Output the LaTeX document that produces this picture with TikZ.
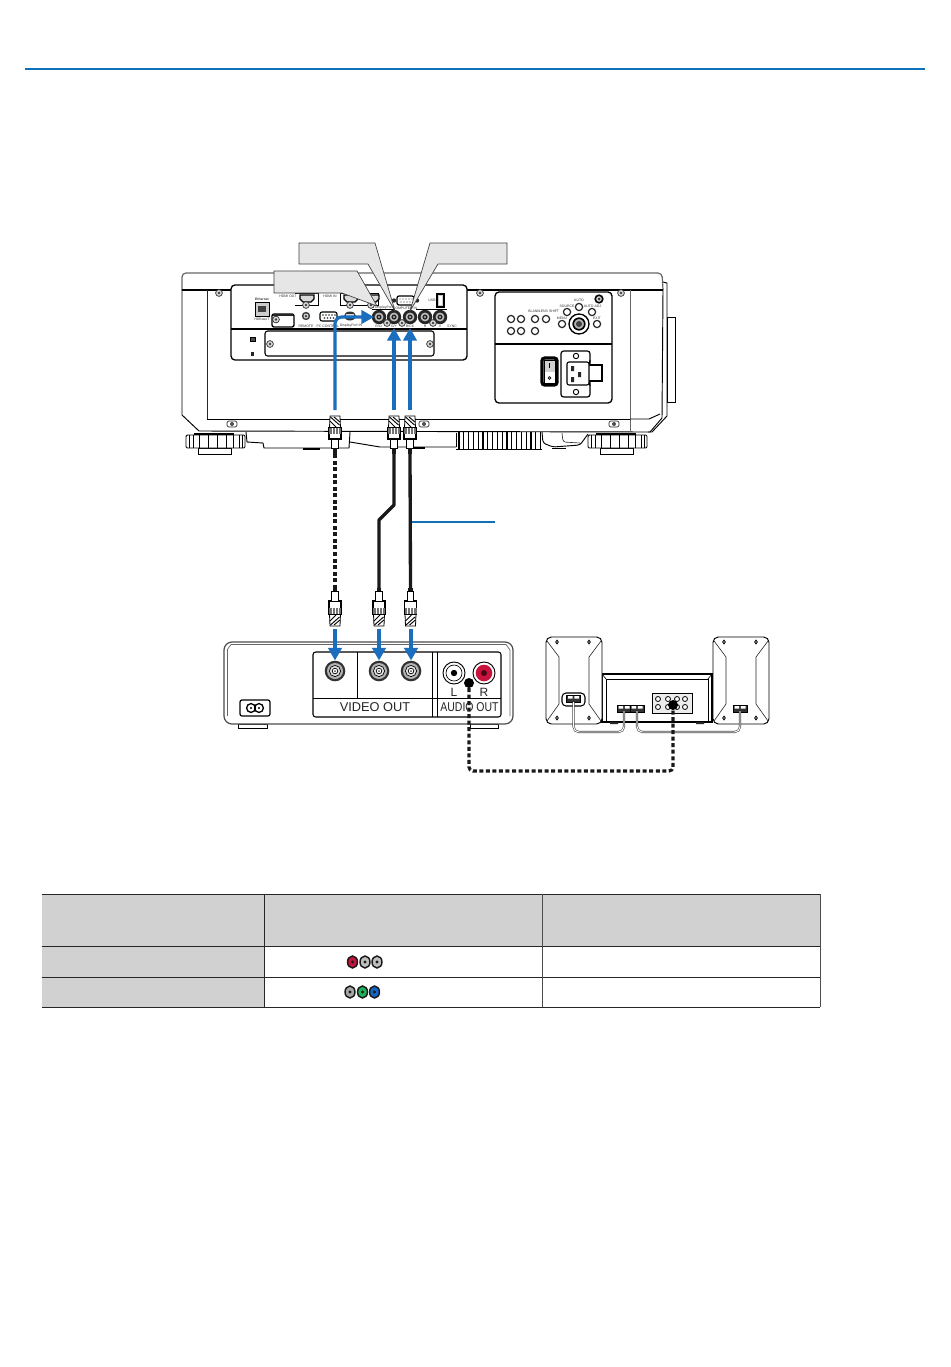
\documentclass[tikz,border=0pt]{standalone}
\usepackage{fontspec}
\setmainfont{Liberation Sans}
\usetikzlibrary{arrows.meta}
\definecolor{topblue}{HTML}{0F72B8}
\definecolor{arrblue}{HTML}{1B6EBE}
\definecolor{calloutgray}{HTML}{E6E6E6}
\definecolor{hdrgray}{HTML}{D1D1D1}
\definecolor{rcared}{HTML}{C8143C}
\definecolor{rcagreen}{HTML}{1FB25A}
\definecolor{rcablue}{HTML}{1565C8}
\tikzset{
  ln/.style={draw=black,line width=0.7pt},
  thin ln/.style={draw=black!85,line width=0.45pt},
  callout/.style={fill=calloutgray,draw=black!75,line width=0.5pt},
  blue arrow/.style={draw=arrblue,line width=2.4pt,-{Triangle[length=9.5pt,width=10pt]}},
  dotted cable/.style={draw=black!90,line width=2.4pt,dash pattern=on 3pt off 1.9pt},
  solid cable/.style={draw=black!90,line width=2.5pt,line join=round},
  tiny/.style={font=\fontsize{2.6pt}{3pt}\selectfont,inner sep=0pt,text=black!80},
  bigl/.style={font=\fontsize{9.6pt}{12pt}\selectfont,inner sep=0pt,text=black!85},
  gridcell/.style={draw=black!85,line width=0.75pt},
  pt/.style={inner sep=0pt,minimum size=0pt,outer sep=0pt}
}
% BNC jack on the projector
\newcommand{\bncjack}[3]{%
  \fill[black!85] (#2,#3) circle (7.2);
  \fill[black!25] (#2,#3) circle (4.4);
  \fill[black!85] (#2,#3) circle (2.6);
  \fill[white] (#2,#3) circle (0.9);
}
% small round button
\newcommand{\btn}[3]{\draw[line width=0.9pt,draw=black!85,fill=white] (#2,#3) circle (#1);}
% small screw
\newcommand{\screw}[2]{%
  \draw[line width=0.5pt,draw=black!85,fill=black!15] (#1,#2) circle (3.4);
  \fill[black!75] (#1,#2) circle (1.4);
}
% wide screw
\newcommand{\wscrew}[2]{%
  \draw[line width=0.5pt,draw=black!85,fill=white,rounded corners=1.5] (#1-5,#2-3) rectangle (#1+5,#2+3);
  \fill[black!70] (#1,#2) circle (2);
}
% BNC plug pointing up: x, top y
\newcommand{\plugup}[2]{%
  \draw[line width=.6pt,fill=white] (#1-5,#2) -- (#1+5,#2) -- (#1+5.5,#2+12) -- (#1-5.5,#2+12) -- cycle;
  \draw[line width=.7pt] (#1-4.5,#2+1) -- (#1+4.5,#2+9) (#1-5,#2+5) -- (#1+1,#2+11) (#1-1,#2+1) -- (#1+5,#2+6);
  \draw[line width=.9pt,fill=white] (#1-6,#2+12) rectangle (#1+6,#2+23);
  \fill[black!55] (#1-6,#2+12) rectangle (#1+6,#2+18);
  \draw[line width=.4pt,draw=white] (#1-3,#2+12) -- (#1-3,#2+18) (#1,#2+12) -- (#1,#2+18) (#1+3,#2+12) -- (#1+3,#2+18);
  \draw[line width=.7pt,fill=white] (#1-3.2,#2+23) rectangle (#1+3.2,#2+32);
  \fill[black!90] (#1-2.2,#2+32) rectangle (#1+2.2,#2+38);
}
% BNC plug pointing down: x, bottom y
\newcommand{\plugdown}[2]{%
  \draw[line width=.6pt,fill=white] (#1-5,#2) -- (#1+5,#2) -- (#1+5.5,#2-12) -- (#1-5.5,#2-12) -- cycle;
  \draw[line width=.7pt] (#1-4.5,#2-1) -- (#1+4.5,#2-9) (#1-5,#2-5) -- (#1+1,#2-11) (#1-1,#2-1) -- (#1+5,#2-6);
  \draw[line width=.9pt,fill=white] (#1-6,#2-25) rectangle (#1+6,#2-12);
  \fill[black!55] (#1-6,#2-18) rectangle (#1+6,#2-12);
  \draw[line width=.4pt,draw=white] (#1-3,#2-18) -- (#1-3,#2-12) (#1,#2-18) -- (#1,#2-12) (#1+3,#2-18) -- (#1+3,#2-12);
  \draw[line width=.7pt,fill=white] (#1-3.2,#2-35) rectangle (#1+3.2,#2-25);
  \fill[black!90] (#1-2.2,#2-38) rectangle (#1+2.2,#2-35);
}
% BNC jack on the source
\newcommand{\srcjack}[2]{%
  \fill[black!80] (#1,#2) circle (10.3);
  \fill[black!30] (#1,#2) circle (8);
  \draw[line width=.5pt,fill=black!12] (#1,#2) circle (5.6);
  \draw[line width=.5pt,fill=white] (#1,#2) circle (2.8);
  \fill[black!70] (#1,#2) circle (1);
}
% RCA icon in table
\newcommand{\rca}[3]{%
  \draw[line width=1.1pt,draw=black!90,fill=#3] (#1,#2) ellipse (5 and 6);
  \fill[black!90] (#1,#2) circle (1.7);
}
% speaker
\newcommand{\speaker}[1]{%
  \begin{scope}[shift={(#1,0)}]
  \draw[ln,fill=white,rounded corners=4] (0,637) rectangle (56,724);
  \draw[thin ln] (1,641) -- (13,657) -- (13,704) -- (1,721);
  \draw[thin ln] (55,641) -- (43,657) -- (43,704) -- (55,721);
  \foreach \sx in {11,43} \foreach \sy in {642,718} \draw[line width=.6pt] (\sx,\sy) ellipse (1.3 and 1.9);
  \end{scope}
}
% dual terminal
\newcommand{\terminal}[2]{%
  \draw[line width=.7pt,fill=black!80] (#1,#2) rectangle (#1+14,#2+7);
  \fill[white] (#1+1.5,#2+1) rectangle (#1+6.2,#2+3.5) (#1+7.8,#2+1) rectangle (#1+12.5,#2+3.5);
}
\begin{document}
\begin{tikzpicture}[x=0.75pt,y=-0.75pt,line cap=butt]
\useasboundingbox (0,0) rectangle (950,1367);
\fill[white] (0,0) rectangle (950,1367);

% header rule
\coordinate (ruleL) at (25,69); \coordinate (ruleR) at (925,69);
\draw[topblue,line width=1.5pt] (ruleL) -- (ruleR);

% ---------- projector body ----------
\draw[line width=.9pt,draw=black!60,rounded corners=3,fill=white] (182,290) -- (182,273) -- (662,273) -- (663,290);
\draw[ln,fill=white] (182,290) -- (182,415) -- (199,431) -- (650,432) -- (662,418) -- (663,290) -- cycle;
\draw[line width=.9pt] (182,290) -- (663,290);
\draw[line width=.7pt,draw=black!85] (207,290) -- (207,419);
\draw[line width=.7pt,draw=black!60] (630,290) -- (630,432);
\draw[ln] (207,419) -- (630,419);
\draw[ln] (630,419) -- (649,419) -- (660,414);
% right side skin
\draw[ln] (663,282) -- (667,283) -- (667,416) -- (652,432) -- (648,432);
\draw[ln,fill=white] (667,317) rectangle (675,402);
% bottom outline
\draw[ln] (246,432) -- (247,442) -- (263,443) -- (264,448) -- (349,448) -- (350,432);
\draw[ln] (350,442) -- (380,447) -- (456,447);
\draw[ln] (456,433) -- (456,447);
\foreach \vx in {459,463.8,...,542} \draw[line width=1pt] (\vx,432) -- (\vx,449);
\draw[line width=.7pt] (456,449) -- (542,449);
\draw[ln,rounded corners=2] (542,432) -- (543,443) -- (553,447) -- (580,445) -- (588,434);
\draw[thin ln,rounded corners=2] (562,433) -- (563,442) -- (580,443);
\fill[black] (552,447.5) rectangle (566,449);
\fill[black] (303,448) rectangle (320,450);
\fill[black] (407,447) rectangle (425,449);

% feet
\foreach \fx in {186,588} {
  \draw[ln,fill=white] (\fx+12,448) rectangle (\fx+45,454);
  \draw[ln,fill=white,rounded corners=1] (\fx,435) rectangle (\fx+59,448);
  \fill[black] (\fx+8,432.5) rectangle (\fx+48,435);
  \foreach \rx in {3,7,13,22,31,40,47,53,56} \draw[line width=.5pt] (\fx+\rx,435) -- (\fx+\rx,448);
}

% screws on body
\wscrew{232}{424}
\screw{480}{293}\screw{621}{293}\screw{219}{293}
\wscrew{424}{424}\wscrew{614}{424}

% ---------- left terminal panel ----------
\draw[line width=1pt,rounded corners=3,fill=white] (231,285) rectangle (467,360);
\draw[line width=.9pt] (231,329) -- (467,329);
\draw[line width=.8pt,rounded corners=2,fill=white] (265,331) rectangle (434,356);
\screw{270}{344}\screw{430}{344}
\fill[black!70] (250,338) rectangle (255,340.5);
\draw[line width=.4pt] (250,337.5) rectangle (255,341);
\fill[black!85] (250.5,352) rectangle (254,356);
% Ethernet
\draw[line width=.7pt,fill=black!20] (255,302) rectangle (269,316);
\fill[black!75] (258,306) rectangle (266,312);
\node[tiny,font=\fontsize{2.5pt}{3pt}\bfseries\selectfont] (lbEth) at (262,299) {Ethernet};
\node[tiny] (lbHdbt) at (262,319) {HDBaseT};
% slot
\draw[line width=1pt,rounded corners=1.5,fill=white] (272,314) rectangle (294,327);
\fill[black!85] (273,314) rectangle (293,316);
\screw{276}{319.5}
% hdmi out
\draw[line width=.5pt] (295,293) -- (318,293) -- (318,305) -- (295,305);
\draw[line width=1pt,fill=black!15] (300,295) -- (314,295) -- (314,299) -- (311,302) -- (303,302) -- (300,299) -- cycle;
\node[tiny] (lbOut) at (288,296.5) {HDMI OUT};
\screw{306}{305}
% remote
\fill[black!75] (306,316) circle (4.2); \fill[black!20] (306,316) circle (2.5); \fill[black] (306,316) circle (1);
\node[tiny] (lbRem) at (306,326) {REMOTE};
% PC control
\draw[line width=.8pt,fill=white,rounded corners=1.5] (320,312) rectangle (337,321);
\foreach \cx in {323,326,329,332,335} \fill[black!80] (\cx,315) circle (.8);
\foreach \cx in {324.5,327.5,330.5,333.5} \fill[black!80] (\cx,318) circle (.8);
\node[tiny] (lbPc) at (328,326) {PC CONTROL};
% hdmi in
\draw[line width=.5pt] (340,293) -- (340,305) -- (378,305) -- (378,293) -- cycle;
\draw[line width=1pt,fill=black!15] (344,295) -- (358,295) -- (358,299) -- (355,302) -- (347,302) -- (344,299) -- cycle;
\node[tiny] (lbIn) at (330,296.5) {HDMI IN};
\screw{350}{305}
\draw[line width=1pt,fill=black!15] (365,295) -- (379,295) -- (379,299) -- (376,302) -- (368,302) -- (365,299) -- cycle;
\screw{371}{305}
% DisplayPort
\fill[black!80] (350,316) ellipse (6 and 4.5); \fill[black!15] (346,314) rectangle (354,318);
\node[tiny] (lbDp) at (351,326) {DisplayPort IN};
% computer in
\draw[line width=.9pt,fill=white,rounded corners=1.5] (397,296) rectangle (414,305);
\foreach \cx in {400,403,406,409,412} \fill[black!80] (\cx,299) circle (.7);
\foreach \cx in {401,404,407,410} \fill[black!80] (\cx,302) circle (.7);
\fill[black!85] (394,300.5) circle (2.2); \fill[black!85] (417,300.5) circle (2.2);
\node[tiny] (lbComp) at (405,308.2) {COMPUTER IN};
\draw[line width=.5pt] (372,309.5) -- (395,309.5) (416,309.5) -- (447,309.5);
\node[tiny] (lbDisp) at (384,307.2) {DisplayPort};
% usb
\node[tiny] (lbUsb) at (432,300) {USB};
\draw[line width=.9pt,fill=black!20] (437,294) rectangle (444,307);
\fill[white] (439,296) rectangle (442,305);
% bnc jacks
\bncjack{}{379}{317}\bncjack{}{394}{317}\bncjack{}{410}{317}\bncjack{}{425}{317}\bncjack{}{440}{317}
\screw{387}{323}\screw{402}{323}\screw{433}{323}
\node[tiny] (lbR) at (379,326.5) {R/Cr};
\node[tiny] (lbG) at (394,326.5) {G/Y};
\node[tiny] (lbB) at (410,326.5) {B/Cb};
\node[tiny] (lbH) at (425,326.5) {H};
\node[tiny] (lbV) at (440,326.5) {V};
\node[tiny] (lbHdr) at (452,326.5) {SYNC};

% ---------- right control panel ----------
\draw[line width=1pt,rounded corners=3,fill=white] (495,292) rectangle (612,403);
\draw[line width=.9pt] (495,344) -- (612,344);
\foreach \bx/\by in {511/319,521/319,511/331,521/331,535/319,535/331,546/319,562/324,567/312,579/307,592/312,597/324} \btn{3.6}{\bx}{\by};
\draw[line width=1.2pt,fill=black!15] (599,299) circle (3.8);
\fill[black!80] (599,299) circle (1.5);
\draw[line width=1pt,fill=white] (579,324) circle (10);
\draw[line width=1.2pt,fill=black!30] (579,324) circle (5.8);
\fill[black!75] (579,324) circle (3);
\node[tiny] (lbB1) at (534,311) {BLANK};
\node[tiny] (lbB2) at (549,311) {LENS SHIFT};
\node[tiny] (lbB3) at (567,306) {SOURCE};
\node[tiny] (lbB4) at (579,300) {AUTO};
\node[tiny] (lbB5) at (593,306) {AUTO ADJ.};
\node[tiny] (lbB6) at (562,318.5) {MENU};
\node[tiny] (lbB7) at (597,318.5) {EXIT};
% power switch
\draw[line width=2.4pt,rounded corners=2,fill=white] (542,358) rectangle (557,385);
\fill[black!18] (544,360) rectangle (555,372);
\draw[line width=.4pt] (544,360) rectangle (555,383);
\draw[line width=.6pt] (549.5,363) -- (549.5,368);
\draw[line width=.6pt] (549.5,378) circle (1.4);
% AC inlet
\draw[line width=.9pt,rounded corners=2,fill=white] (561,351) rectangle (590,397);
\draw[line width=.8pt,fill=white] (589,365) -- (602,365) -- (602,381) -- (589,381);
\draw[line width=.8pt] (590,360) -- (589,365) (590,386) -- (589,381);
\draw[line width=.8pt,rounded corners=1.5,fill=white] (567,362) rectangle (589,385);
\fill[black!85] (571,366) rectangle (574,371) (571,377) rectangle (574,382) (578,372) rectangle (581,377);
\draw[line width=.7pt,fill=white] (576,356) circle (2.7);
\draw[line width=.7pt,fill=white] (576,392) circle (2.7);

% ---------- callouts ----------
\draw[callout] (299,243) -- (375,243) -- (395,311) -- (368,264) -- (299,264) -- cycle;
\draw[callout] (507,243) -- (430,243) -- (410,311) -- (438,264) -- (507,264) -- cycle;
\draw[callout] (274,271) -- (357,271) -- (377,306) -- (342,293) -- (274,293) -- cycle;

% ---------- upper plugs ----------
\plugup{335}{416}\plugup{394}{416}\plugup{410}{416}
\node[pt] (plugA) at (335,454) {};
\node[pt] (plugB) at (394,454) {};
\node[pt] (plugC) at (410,454) {};

% ---------- lower plugs ----------
\plugdown{335}{626}\plugdown{379}{626}\plugdown{410.5}{626}
\node[pt] (lowA) at (335,588) {};
\node[pt] (lowB) at (379,588) {};
\node[pt] (lowC) at (410.5,588) {};

% ---------- cables ----------
\coordinate (bendB1) at (394,505);
\coordinate (bendB2) at (379,520);
\draw[dotted cable] (plugA) -- (lowA);
\draw[solid cable] (plugB) -- (bendB1) -- (bendB2) -- (lowB);
\draw[solid cable] (plugC) -- (lowC);
\coordinate (leaderEnd) at (495,522);
\draw[draw=topblue,line width=1pt] (leaderEnd) -- (412,522);

% ---------- source device ----------
\draw[line width=.7pt,fill=white] (238,724) rectangle (267,728.5);
\draw[line width=.7pt,fill=white] (470,724) rectangle (498,728.5);
\draw[line width=.9pt,draw=black!70,rounded corners=6,fill=white] (224,642) rectangle (513,724);
\draw[line width=.5pt,draw=black!60] (227,650) -- (231,644.5) -- (506,644.5) -- (510,650) -- (510,716);
\draw[line width=.5pt,draw=black!60] (227,650) -- (227,716);
\draw[line width=.8pt,rounded corners=2,fill=white] (313,652) rectangle (501,717);
\draw[line width=.7pt] (313,698) -- (501,698);
\draw[line width=.7pt] (357,652) -- (357,698);
\draw[line width=.7pt] (432,652) -- (432,717);
\draw[line width=.7pt] (437,652) -- (437,717);
\srcjack{335}{671}\srcjack{379}{671}\srcjack{411}{671}
\draw[line width=.7pt,fill=white] (454,673) circle (11);
\draw[line width=.5pt] (454,673) circle (8);
\fill[black] (454,673) circle (3.2);
\draw[line width=.7pt,fill=white] (484,673) circle (11);
\fill[rcared] (484,673) circle (8.3);
\fill[black!65!rcared] (484,673) circle (3);
\node[bigl,font=\fontsize{9pt}{11pt}\selectfont] (lblL) at (454,692) {L};
\node[bigl,font=\fontsize{9pt}{11pt}\selectfont] (lblR) at (484,692) {R};
\node[bigl] (vidout) at (375,707.5) {VIDEO OUT};
\node[bigl] (audout) at (469.5,707.5) {\scalebox{0.82}[1]{AUDIO OUT}};
\draw[line width=.9pt,rounded corners=1.5,fill=white] (240,700) rectangle (270,716);
\draw[line width=1pt] (251,708) circle (4.4); \draw[line width=1pt] (259,708) circle (4.4);
\fill[black] (251,708) circle (1.2); \fill[black] (259,708) circle (1.2);

% ---------- speakers ----------
\draw[line width=.9pt,fill=white] (602,674) rectangle (712,722);
\draw[line width=.5pt] (606,679) rectangle (708,722);
\draw[line width=.5pt] (602,674) -- (606,679) (712,674) -- (708,679);
\fill[black!85] (610,722) rectangle (618,724) (696,722) rectangle (704,724);
\speaker{546}\speaker{713}
\draw[line width=.6pt,fill=black!7] (652,693) rectangle (692,713);
\foreach \jx in {658,668,677,685} \foreach \jy in {699,707} \draw[line width=.6pt,fill=white] (\jx,\jy) circle (2.5);
\terminal{617}{705}\terminal{630}{705}\terminal{733}{705}
\draw[line width=.8pt,rounded corners=3,fill=white] (562,693) rectangle (585,706);
\terminal{566.5}{695}
% speaker wires
\coordinate (wA1) at (573.5,702); \coordinate (wA2) at (624,711);
\coordinate (wB1) at (637,711);   \coordinate (wB2) at (740,711);
\draw[draw=black!70,line width=1.6pt,rounded corners=4] (wA1) -- (573.5,732) -- (624,732) -- (wA2);
\draw[draw=white,line width=.7pt,rounded corners=4] (wA1) -- (573.5,732) -- (624,732) -- (wA2);
\draw[draw=black!70,line width=1.6pt,rounded corners=4] (wB1) -- (637,732) -- (740,732) -- (wB2);
\draw[draw=white,line width=.7pt,rounded corners=4] (wB1) -- (637,732) -- (740,732) -- (wB2);

% ---------- audio cable ----------
\node[pt,circle,fill=black,minimum size=7.5pt] (audA) at (469,683) {};
\node[pt,circle,fill=black,minimum size=7.5pt] (audB) at (673,705) {};
\draw[dotted cable,rounded corners=3] (audA) -- (469,771) -- (673,771) -- (audB);

% ---------- arrows ----------
\coordinate (aS1) at (335,410); \coordinate (aS2) at (394,410); \coordinate (aS3) at (410,410);
\node[pt] (jk1) at (374,317) {};
\node[pt] (jk2) at (394,328) {};
\node[pt] (jk3) at (410,328) {};
\draw[blue arrow,rounded corners=5] (aS1) -- (335,317) -- (jk1);
\draw[blue arrow] (aS2) -- (jk2);
\draw[blue arrow] (aS3) -- (jk3);
\coordinate (dS1) at (335,629); \coordinate (dS2) at (379,629); \coordinate (dS3) at (411,629);
\node[pt] (dj1) at (335,660.5) {};
\node[pt] (dj2) at (379,660.5) {};
\node[pt] (dj3) at (411,660.5) {};
\draw[blue arrow] (dS1) -- (dj1);
\draw[blue arrow] (dS2) -- (dj2);
\draw[blue arrow] (dS3) -- (dj3);

% ---------- table ----------
\fill[hdrgray] (42,894) rectangle (820,946);
\fill[hdrgray] (42,946) rectangle (264,1007);
\draw[gridcell] (42,894) -- (820,894);
\draw[gridcell] (42,946) -- (820,946);
\draw[gridcell] (42,977) -- (820,977);
\draw[gridcell] (42,1007) -- (820,1007);
\draw[gridcell] (264,894) -- (264,1007);
\draw[draw=black!70,line width=.4pt] (542,894) -- (542,1007);
\draw[draw=black!70,line width=.4pt] (820,894) -- (820,1007);
\rca{352.5}{962}{rcared}
\rca{365}{962}{black!25}
\rca{377}{962}{black!25}
\rca{350}{992}{black!35}
\rca{362.5}{992}{rcagreen}
\rca{374.5}{992}{rcablue}
\end{tikzpicture}
\end{document}
